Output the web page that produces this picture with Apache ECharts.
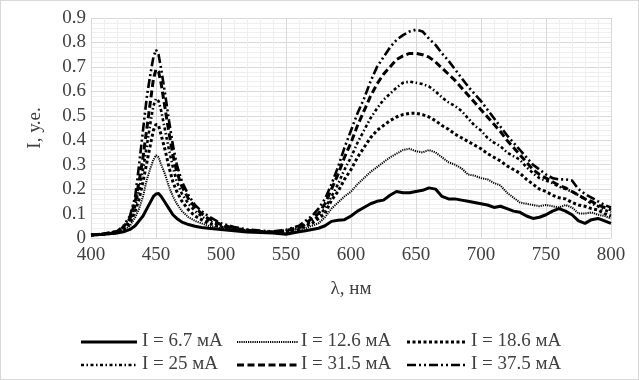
<!DOCTYPE html>
<html>
<head>
<meta charset="utf-8">
<script src="https://cdn.jsdelivr.net/npm/echarts@6/dist/echarts.min.js"></script>
<style>
html,body{margin:0;padding:0;background:#fff;}
#c{width:639px;height:380px;box-sizing:border-box;border:1px solid #d9d9d9;}
</style>
</head>
<body>
<div id="c"></div>
<script>
var wavelengths = [400,410,420,425,430,434,437,440,443,446,
448,450,452,454,457,460,463,466,470,475,
480,485,490,500,510,520,530,540,550,560,
565,570,575,580,585,590,595,600,605,610,
615,620,625,630,635,640,645,650,655,660,
665,670,675,680,685,690,695,700,705,710,
715,720,725,730,735,740,745,750,755,760,
765,770,775,780,785,790,795,800];

var i6_7 = [0.012,0.015,0.02,0.025,0.035,0.05,0.07,0.09,0.12,0.15,
0.17,0.18,0.182,0.17,0.145,0.12,0.095,0.08,0.065,0.055,
0.048,0.043,0.04,0.035,0.03,0.025,0.022,0.02,0.015,0.025,
0.03,0.035,0.04,0.05,0.068,0.073,0.075,0.09,0.11,0.125,
0.14,0.15,0.155,0.175,0.19,0.185,0.185,0.19,0.195,0.205,
0.2,0.17,0.16,0.16,0.155,0.15,0.145,0.14,0.135,0.125,
0.13,0.12,0.11,0.105,0.09,0.08,0.085,0.095,0.11,0.12,
0.11,0.095,0.07,0.06,0.075,0.08,0.07,0.06];

var i12_6 = [0.012,0.015,0.02,0.03,0.05,0.085,0.12,0.17,0.24,0.29,
0.32,0.338,0.33,0.3,0.26,0.21,0.17,0.14,0.11,0.085,
0.07,0.06,0.05,0.04,0.032,0.027,0.024,0.022,0.02,0.03,
0.04,0.05,0.06,0.085,0.12,0.145,0.17,0.19,0.22,0.245,
0.27,0.29,0.31,0.33,0.345,0.36,0.365,0.355,0.35,0.36,
0.35,0.33,0.31,0.3,0.285,0.26,0.255,0.245,0.24,0.225,
0.215,0.185,0.165,0.145,0.14,0.135,0.13,0.135,0.13,0.125,
0.135,0.125,0.1,0.1,0.105,0.095,0.09,0.08];

var i18_6 = [0.012,0.015,0.022,0.035,0.06,0.11,0.16,0.23,0.31,0.39,
0.44,0.465,0.46,0.42,0.36,0.29,0.23,0.19,0.15,0.115,
0.09,0.075,0.06,0.045,0.035,0.03,0.025,0.023,0.025,0.035,
0.05,0.06,0.08,0.1,0.155,0.19,0.24,0.28,0.33,0.37,
0.41,0.44,0.46,0.48,0.495,0.505,0.51,0.51,0.505,0.495,
0.48,0.46,0.445,0.425,0.41,0.395,0.38,0.365,0.345,0.33,
0.315,0.295,0.28,0.265,0.24,0.22,0.2,0.19,0.175,0.165,
0.16,0.145,0.135,0.13,0.12,0.115,0.1,0.09];

var i25 = [0.012,0.016,0.024,0.04,0.07,0.13,0.2,0.28,0.38,0.48,
0.54,0.57,0.56,0.52,0.44,0.36,0.29,0.23,0.18,0.14,
0.11,0.09,0.07,0.05,0.038,0.03,0.026,0.024,0.027,0.04,
0.055,0.07,0.09,0.12,0.17,0.22,0.28,0.33,0.39,0.44,
0.49,0.53,0.565,0.59,0.615,0.635,0.64,0.635,0.63,0.62,
0.6,0.575,0.555,0.54,0.52,0.49,0.46,0.44,0.41,0.39,
0.375,0.35,0.335,0.32,0.29,0.265,0.245,0.235,0.225,0.21,
0.2,0.19,0.175,0.16,0.14,0.13,0.115,0.105];

var i31_5 = [0.012,0.017,0.026,0.045,0.08,0.15,0.23,0.33,0.45,0.57,
0.65,0.69,0.68,0.63,0.53,0.43,0.34,0.27,0.21,0.16,
0.125,0.1,0.08,0.055,0.04,0.032,0.027,0.025,0.03,0.045,
0.06,0.08,0.1,0.14,0.2,0.26,0.33,0.39,0.46,0.52,
0.58,0.63,0.67,0.7,0.73,0.745,0.755,0.755,0.75,0.74,
0.72,0.695,0.67,0.645,0.615,0.585,0.555,0.525,0.495,0.465,
0.435,0.4,0.37,0.34,0.31,0.28,0.26,0.245,0.23,0.215,
0.205,0.19,0.175,0.16,0.15,0.135,0.125,0.115];

var i37_5 = [0.012,0.018,0.028,0.05,0.09,0.17,0.3,0.44,0.58,0.68,
0.74,0.77,0.75,0.69,0.59,0.48,0.38,0.3,0.23,0.175,
0.135,0.11,0.09,0.06,0.045,0.035,0.03,0.027,0.033,0.05,
0.07,0.09,0.12,0.16,0.22,0.29,0.37,0.44,0.51,0.57,
0.64,0.7,0.74,0.78,0.81,0.83,0.845,0.852,0.845,0.815,
0.79,0.755,0.725,0.69,0.655,0.62,0.59,0.56,0.525,0.49,
0.455,0.42,0.39,0.36,0.33,0.3,0.28,0.26,0.245,0.24,
0.24,0.235,0.2,0.18,0.165,0.15,0.135,0.125];

var seriesNames = ['I = 6.7 мА','I = 12.6 мА','I = 18.6 мА','I = 25 мА','I = 31.5 мА','I = 37.5 мА'];
var seriesValues = [i6_7, i12_6, i18_6, i25, i31_5, i37_5];

var FONT = '"Liberation Serif","Times New Roman",serif';
var TXT = '#404040';
var styles = [
  {type:'solid', width:3},
  {type:[1.2,1], width:2},
  {type:[3,2.5], width:3},
  {type:[3,2.5,1.5,2.5], width:2.6},
  {type:[7,3.5], width:3},
  {type:[9,3,2,3,2,3], width:2.6}
];

function pairs(v){ return wavelengths.map(function(x,i){ return [x, v[i]]; }); }

var series = seriesNames.map(function(n,i){
  return {
    name:n, type:'line', symbol:'none', smooth:false,
    data: pairs(seriesValues[i]),
    lineStyle:{color:'#000', width:styles[i].width, type:styles[i].type, cap:'butt'},
    itemStyle:{color:'#000'},
    animation:false
  };
});

// legend drawn as graphic elements (3 columns x 2 rows)
var legLineX = [[80,136],[236,297],[406,466]];
var legTextX = [141,300,470];
var legRowY = [341,364];
var graphics = [];
seriesNames.forEach(function(n,i){
  var col = i % 3, row = Math.floor(i / 3);
  var st = styles[i];
  graphics.push({
    type:'line', silent:true,
    shape:{x1:legLineX[col][0], y1:legRowY[row], x2:legLineX[col][1], y2:legRowY[row]},
    style:{stroke:'#000', lineWidth:st.width, lineDash: st.type==='solid' ? null : st.type, lineCap:'butt'}
  });
  graphics.push({
    type:'text', silent:true, left:legTextX[col], top:legRowY[row]-10,
    style:{text:n, font:'19px ' + FONT, fill:TXT}
  });
});

var chart = echarts.init(document.getElementById('c'), null, {renderer:'canvas'});
chart.setOption({
  animation:false,
  backgroundColor:'#fff',
  grid:{left:90, top:17, width:520, height:220, containLabel:false},
  xAxis:{
    type:'value', min:400, max:800, interval:50,
    name:'λ, нм', nameLocation:'middle', nameGap:42,
    nameTextStyle:{fontFamily:FONT, fontSize:19, color:TXT},
    axisLine:{lineStyle:{color:'#d9d9d9'}},
    axisTick:{show:false},
    axisLabel:{fontFamily:FONT, fontSize:19, color:TXT, margin:8},
    splitLine:{lineStyle:{color:'#d9d9d9', width:1}},
    minorTick:{show:false, splitNumber:5},
    minorSplitLine:{show:true, lineStyle:{color:'#efefef', width:1}}
  },
  yAxis:{
    type:'value', min:0, max:0.9, interval:0.1,
    name:'I, у.е.', nameLocation:'middle', nameGap:46,
    nameTextStyle:{fontFamily:FONT, fontSize:19, color:TXT},
    axisLine:{show:true, lineStyle:{color:'#d9d9d9'}},
    axisTick:{show:false},
    axisLabel:{fontFamily:FONT, fontSize:19, color:TXT, margin:5,
      formatter:function(v){ return v===0 ? '0' : String(Math.round(v*10)/10); }},
    splitLine:{lineStyle:{color:'#d9d9d9', width:1}},
    minorTick:{show:false, splitNumber:5},
    minorSplitLine:{show:true, lineStyle:{color:'#efefef', width:1}}
  },
  graphic:graphics,
  series:series
});
</script>
</body>
</html>
